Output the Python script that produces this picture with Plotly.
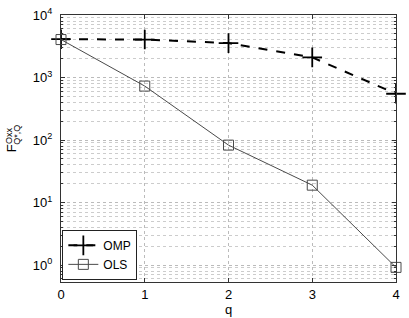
import plotly.graph_objects as go

q = [0, 1, 2, 3, 4]
omp = [4100, 4050, 3550, 2100, 550]
ols = [4050, 730, 83, 19, 0.92]
ytick_vals = [1, 10, 100, 1000, 10000]
ytick_text = ["10<sup>0</sup>", "10<sup>1</sup>", "10<sup>2</sup>", "10<sup>3</sup>", "10<sup>4</sup>"]
minor_vals = [m * d for d in [0.1, 1, 10, 100, 1000] for m in range(2, 10)]

fig = go.Figure()
fig.add_trace(go.Scatter(
    x=q, y=omp, name="OMP", mode="lines+markers", cliponaxis=False,
    line=dict(color="black", width=2, dash="dash"),
    marker=dict(symbol="cross-thin-open", size=14, line=dict(color="black", width=1.8)),
))
fig.add_trace(go.Scatter(
    x=q, y=ols, name="OLS", mode="lines+markers", cliponaxis=False,
    line=dict(color="#4a4a4a", width=1),
    marker=dict(symbol="square-open", size=10, color="#4a4a4a", line=dict(width=1)),
))

font = "Liberation Sans, Arial, sans-serif"
fig.update_layout(
    width=409, height=318,
    margin=dict(l=61, r=13, t=15, b=36),
    paper_bgcolor="white", plot_bgcolor="white",
    font=dict(family=font, size=13, color="black"),
    showlegend=True,
    legend=dict(x=0.004, y=0.008, xanchor="left", yanchor="bottom",
                bordercolor="#222", borderwidth=1, bgcolor="white",
                font=dict(size=12), tracegroupgap=0, itemwidth=30),
    xaxis=dict(range=[0, 4], tickvals=q, showline=True, linecolor="#333", linewidth=1,
               mirror="ticks", ticks="inside", ticklen=4, tickcolor="#333",
               showgrid=True, gridcolor="#bbbbbb", griddash="dot", gridwidth=1,
               automargin=False,
               zeroline=False, title=dict(text="q", standoff=0, font=dict(size=13))),
    yaxis=dict(type="log", range=[-0.27, 4], tickvals=ytick_vals, ticktext=ytick_text,
               showline=True, linecolor="#333", linewidth=1, mirror="ticks",
               ticks="inside", ticklen=4, tickcolor="#333", automargin=False,
               ticklabelstandoff=5,
               showgrid=True, gridcolor="#bbbbbb", griddash="dot", gridwidth=1,
               minor=dict(tickvals=minor_vals, showgrid=True, gridcolor="#cccccc",
                          griddash="dot", gridwidth=1,
                          ticks="inside", ticklen=2, tickcolor="#333"),
               zeroline=False),
)

# y-axis title F^{Oxx}_{Q*,Q} built from rotated pieces
fig.add_annotation(xref="paper", yref="paper", x=-0.147, y=0.50, text="F",
                   textangle=-90, showarrow=False, font=dict(size=13),
                   xanchor="center", yanchor="middle")
fig.add_annotation(xref="paper", yref="paper", x=-0.155, y=0.547, text="Oxx",
                   textangle=-90, showarrow=False, font=dict(size=9),
                   xanchor="center", yanchor="middle")
fig.add_annotation(xref="paper", yref="paper", x=-0.131, y=0.552, text="Q*,Q",
                   textangle=-90, showarrow=False, font=dict(size=9),
                   xanchor="center", yanchor="middle")

fig.write_html("out.html", config={"displayModeBar": False},
               post_script="document.body.style.margin='0';document.body.style.overflow='hidden';")
